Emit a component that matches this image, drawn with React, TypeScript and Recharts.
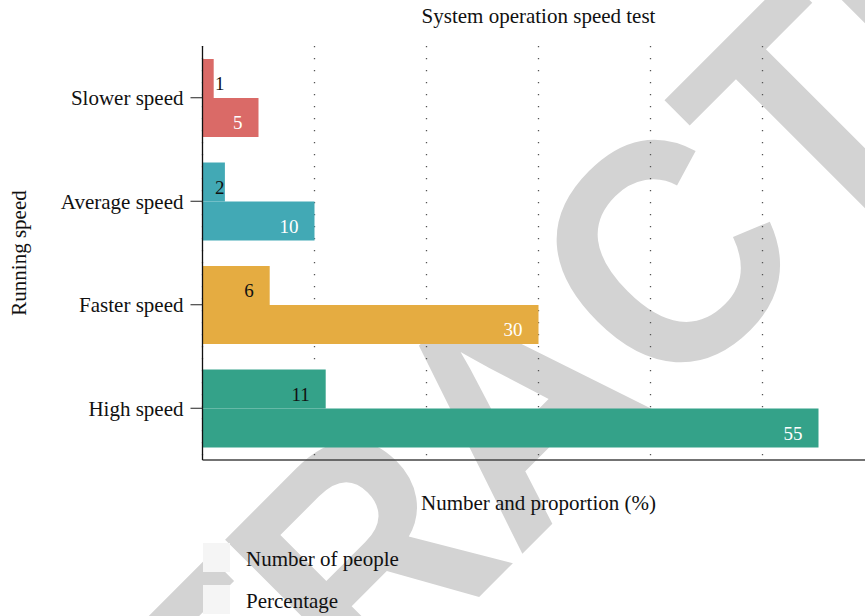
import {
  BarChart,
  Bar,
  XAxis,
  YAxis,
  CartesianGrid,
  Legend,
  LabelList,
  Cell,
} from "recharts";

const categories = ["Slower speed", "Average speed", "Faster speed", "High speed"];
const people = [1, 2, 6, 11];
const percentage = [5, 10, 30, 55];
const xTicks = [0, 10, 20, 30, 40, 50, 60];
const seriesNames = ["Number of people", "Percentage"];

const palette = ["#DA6A67", "#42A9B5", "#E5AC41", "#34A289"];
const FONT = '"Liberation Serif", "Times New Roman", serif';

const rows = categories.map((name, i) => ({
  name,
  people: people[i],
  percent: percentage[i],
}));

// value labels sit near the bar end, but never left of the axis
function barLabel(color: string) {
  return (props: any) => {
    const { x, y, width, height, value } = props;
    const endX = Math.max(x + width - 16, x + 22);
    return (
      <text
        x={endX}
        y={y + height / 2 + 5}
        dy="0.35em"
        textAnchor="end"
        fill={color}
        fontSize={19}
        fontFamily={FONT}
      >
        {value}
      </text>
    );
  };
}

// x ticks are needed for the grid but have no labels in the figure
const noTick = () => <g />;

function LegendBox({ payload }: any) {
  return (
    <div style={{ position: "relative", height: 73, width: 260, fontFamily: FONT }}>
      {(payload || []).map((item: any, i: number) => (
        <div
          key={item.value}
          style={{ position: "absolute", left: 0, top: i * 42, height: 29, display: "flex" }}
        >
          <span style={{ width: 27, height: 29, background: item.color || "#f5f5f5" }} />
          <span
            style={{
              marginLeft: 16,
              fontSize: 21,
              lineHeight: "29px",
              paddingTop: 2,
              color: "#111",
              whiteSpace: "nowrap",
            }}
          >
            {item.value}
          </span>
        </div>
      ))}
    </div>
  );
}

function Watermark() {
  return (
    <svg
      width={865}
      height={616}
      style={{ position: "absolute", left: 0, top: 0 }}
    >
      <g transform="translate(-49.5 1125.6) rotate(-45) scale(0.92 1)">
        <text
          x={0}
          y={0}
          fontSize={320}
          fontWeight="bold"
          fontFamily='"Liberation Sans", Arial, sans-serif'
          fill="#d3d3d3"
        >
          RETRACTED
        </text>
      </g>
    </svg>
  );
}

export default function App() {
  return (
    <div
      style={{
        position: "fixed",
        left: 0,
        top: 0,
        width: 865,
        height: 616,
        overflow: "hidden",
        background: "#fff",
      }}
    >
      <Watermark />
      <BarChart
        width={880}
        height={616}
        layout="vertical"
        data={rows}
        margin={{ top: 46, right: 5.5, left: 0, bottom: 0 }}
        barCategoryGap={13}
        barGap={0}
      >
        <CartesianGrid
          horizontal={false}
          stroke="#555"
          strokeWidth={1.3}
          strokeDasharray="1.3 10.7"
        />
        <XAxis
          type="number"
          domain={[0, 60]}
          ticks={xTicks}
          interval={0}
          tick={noTick}
          tickLine={false}
          axisLine={{ stroke: "#444", strokeWidth: 1.6 }}
          height={83}
          label={{
            value: "Number and proportion (%)",
            position: "insideTop",
            offset: 34.7,
            style: { fontSize: 21, fontFamily: FONT, fill: "#111" },
          }}
        />
        <YAxis
          type="category"
          dataKey="name"
          width={202.5}
          tickSize={12}
          tickMargin={7}
          tick={{ fill: "#111", fontSize: 21, fontFamily: FONT }}
          tickLine={{ stroke: "#222" }}
          axisLine={{ stroke: "#111", strokeWidth: 1.3 }}
          label={{
            value: "Running speed",
            angle: -90,
            position: "insideLeft",
            offset: 18.5,
            style: { textAnchor: "middle", fontSize: 21, fontFamily: FONT, fill: "#111" },
          }}
        />
        <Legend
          verticalAlign="bottom"
          align="left"
          layout="horizontal"
          content={LegendBox}
          wrapperStyle={{ left: 203, width: 260, bottom: 0 }}
        />
        <Bar dataKey="people" name={seriesNames[0]} fill="#f5f5f5" isAnimationActive={false}>
          {rows.map((r, i) => (
            <Cell key={r.name} fill={palette[i]} />
          ))}
          <LabelList dataKey="people" content={barLabel("#111")} />
        </Bar>
        <Bar dataKey="percent" name={seriesNames[1]} fill="#f5f5f5" isAnimationActive={false}>
          {rows.map((r, i) => (
            <Cell key={r.name} fill={palette[i]} />
          ))}
          <LabelList dataKey="percent" content={barLabel("#fff")} />
        </Bar>
      </BarChart>
      <div
        style={{
          position: "absolute",
          left: 202.5,
          top: 4.2,
          width: 672,
          textAlign: "center",
          fontFamily: FONT,
          fontSize: 21,
          lineHeight: "24px",
          color: "#111",
        }}
      >
        System operation speed test
      </div>
    </div>
  );
}
